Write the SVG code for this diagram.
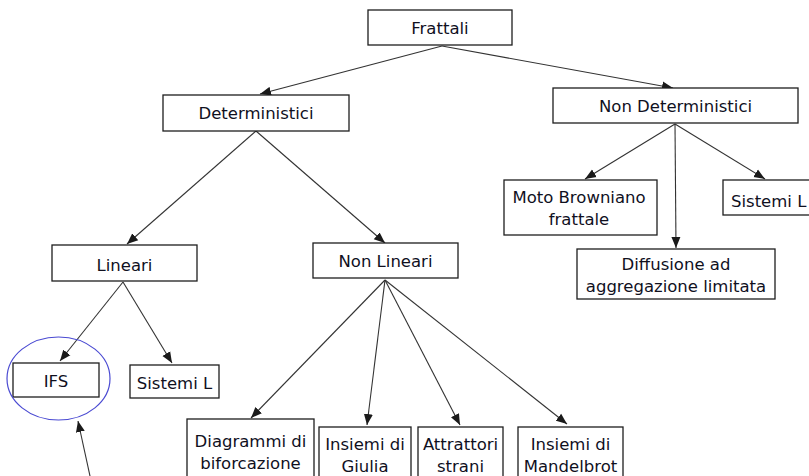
<svg xmlns="http://www.w3.org/2000/svg" width="809" height="476" viewBox="0 0 809 476">
<style>
  .box{fill:#fff;stroke:#1e1e1e;stroke-width:1.3}
  .t{font-family:"DejaVu Sans",Verdana,sans-serif;font-size:16.5px;fill:#10101e;text-anchor:middle}
  .c{stroke:#333;stroke-width:1.1;fill:none;marker-end:url(#ah)}
</style>
<defs>
  <marker id="ah" markerUnits="userSpaceOnUse" markerWidth="12" markerHeight="10" viewBox="0 0 12 10" refX="11" refY="5" orient="auto">
    <path d="M0,0.5 L11,5 L0,9.5 Z" fill="#1a1a1a"/>
  </marker>
</defs>
<rect width="809" height="476" fill="#fff"/>
<g id="connectors">
  <line class="c" x1="442" y1="46" x2="260" y2="94"/>
  <line class="c" x1="442" y1="46" x2="673" y2="88"/>
  <line class="c" x1="256" y1="131" x2="127" y2="244"/>
  <line class="c" x1="256" y1="131" x2="385" y2="243"/>
  <line class="c" x1="675" y1="124" x2="585" y2="179"/>
  <line class="c" x1="675" y1="124" x2="676" y2="248"/>
  <line class="c" x1="675" y1="124" x2="765" y2="179"/>
  <line class="c" x1="123" y1="282" x2="60" y2="361"/>
  <line class="c" x1="123" y1="282" x2="172" y2="363"/>
  <line class="c" x1="385" y1="280" x2="251" y2="418"/>
  <line class="c" x1="385" y1="280" x2="367" y2="425"/>
  <line class="c" x1="385" y1="280" x2="460" y2="425"/>
  <line class="c" x1="385" y1="280" x2="567" y2="424"/>
  <line class="c" x1="90" y1="476" x2="78" y2="421"/>
</g>
<g id="frattali"><rect class="box" x="368" y="10" width="144" height="35"/><text class="t" x="440" y="34">Frattali</text></g>
<g id="deterministici"><rect class="box" x="163" y="95" width="186" height="36"/><text class="t" x="256" y="119">Deterministici</text></g>
<g id="non-deterministici"><rect class="box" x="553" y="88" width="245" height="35"/><text class="t" x="675.5" y="112">Non Deterministici</text></g>
<g id="moto-browniano"><rect class="box" x="504" y="180" width="153" height="55"/><text class="t" x="579" y="203">Moto Browniano</text><text class="t" x="579" y="225">frattale</text></g>
<g id="sistemi-l-nd"><rect class="box" x="723" y="180" width="92" height="35"/><text class="t" x="731" y="207" style="text-anchor:start">Sistemi L</text></g>
<g id="diffusione"><rect class="box" x="577" y="249" width="198" height="50"/><text class="t" x="676" y="270">Diffusione ad</text><text class="t" x="676" y="292">aggregazione limitata</text></g>
<g id="lineari"><rect class="box" x="52" y="245" width="145" height="36"/><text class="t" x="124.5" y="271">Lineari</text></g>
<g id="non-lineari"><rect class="box" x="313" y="243" width="145" height="35"/><text class="t" x="385.5" y="267">Non Lineari</text></g>
<g id="ifs"><rect class="box" x="13" y="363" width="86" height="34"/><text class="t" x="56" y="387">IFS</text><ellipse cx="58.5" cy="378.5" rx="51.5" ry="41.5" fill="none" stroke="#4a4ad2" stroke-width="1.2"/></g>
<g id="sistemi-l"><rect class="box" x="130" y="365" width="89" height="33"/><text class="t" x="174.5" y="389">Sistemi L</text></g>
<g id="diagrammi"><rect class="box" x="187" y="419" width="127" height="62"/><text class="t" x="250.5" y="447">Diagrammi di</text><text class="t" x="250.5" y="469">biforcazione</text></g>
<g id="giulia"><rect class="box" x="319" y="427" width="92" height="54"/><text class="t" x="365" y="450">Insiemi di</text><text class="t" x="365" y="472">Giulia</text></g>
<g id="attrattori"><rect class="box" x="418" y="427" width="85" height="54"/><text class="t" x="460.5" y="450">Attrattori</text><text class="t" x="460.5" y="472">strani</text></g>
<g id="mandelbrot"><rect class="box" x="518" y="427" width="105" height="54"/><text class="t" x="570.5" y="450">Insiemi di</text><text class="t" x="570.5" y="472">Mandelbrot</text></g>
</svg>
